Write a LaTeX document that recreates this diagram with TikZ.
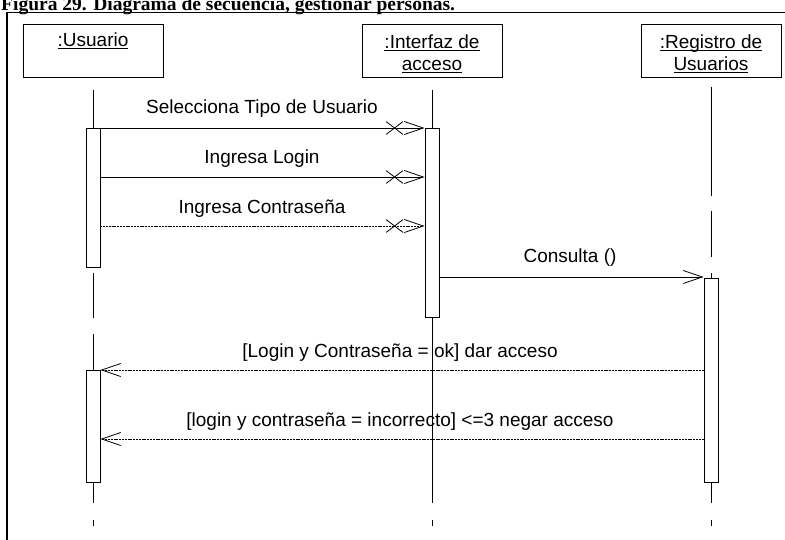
\documentclass[tikz,border=0pt]{standalone}
\usepackage{fontspec}
\setmainfont{Liberation Sans}
\newfontfamily\titlefont{Liberation Serif}
\usetikzlibrary{arrows.meta,shapes.misc}
\newcommand\myul[1]{\setbox0\hbox{#1}\rlap{\rule[-2.8pt]{\wd0}{0.9pt}}\box0}
\begin{document}
\begin{tikzpicture}[x=1pt,y=-1pt,
  every node/.style={font=\fontsize{19}{22}\selectfont},
  objbox/.style={draw, line width=0.8pt, minimum width=140pt, minimum height=53pt, inner sep=0pt, anchor=north},
  actbox/.style={draw, fill=white, line width=0.9pt, minimum width=14pt, inner sep=0pt, anchor=north},
  life/.style={line width=0.8pt},
  msg/.style={line width=0.8pt, -{Straight Barb[length=19pt,width=13pt,line width=0.8pt]}},
  rmsg/.style={msg, dash pattern=on 2pt off 0.8pt},
  xmark/.style={draw, cross out, minimum width=16pt, minimum height=12pt, inner sep=0pt, line width=0.8pt},
  lbl/.style={anchor=base, inner sep=0pt}
]
\useasboundingbox (0,0) rectangle (785,539);
% frame and title
\draw[line width=1.1pt] (7,545) -- (7,12.5) -- (790,12.5);
\node[anchor=base west, inner sep=0pt, font=\titlefont\bfseries\fontsize{19.5}{22}\selectfont] (title) at (1,10) {Figura 29. Diagrama de secuencia, gestionar personas.};
% object boxes
\node[objbox] (bu) at (93,24) {};
\node[objbox] (bi) at (432,24) {};
\node[objbox] (br) at (711,24) {};
\node[lbl] (tu) at (93,46) {\myul{:Usuario}};
\node[lbl] (ti1) at (432,48) {\myul{:Interfaz de}};
\node[lbl] (ti2) at (432,70) {\myul{acceso}};
\node[lbl] (tr1) at (711,48) {\myul{:Registro de}};
\node[lbl] (tr2) at (711,70) {\myul{Usuarios}};
% activations
\node[actbox, minimum height=139pt] (au1) at (93,128) {};
\node[actbox, minimum height=189pt] (ai) at (432,128) {};
\node[actbox, minimum height=204pt] (ar) at (711,278) {};
\node[actbox, minimum height=112pt] (au2) at (93,370) {};
% lifeline ends
\coordinate (eu) at (93,526);
\coordinate (ei) at (432,526);
\coordinate (er) at (711,526);
% lifelines
\draw[life, shorten <=12pt] (bu.south) -- (au1.north);
\draw[life, shorten <=12pt] (bi.south) -- (ai.north);
\draw[life, shorten <=9pt, dash pattern=on 109pt off 15pt on 46pt off 16pt on 6pt off 100pt] (br.south) -- (ar.north);
\draw[life, shorten <=5pt, dash pattern=on 45pt off 16pt on 60pt] (au1.south) -- (au2.north);
\draw[life, dash pattern=on 20pt off 17pt on 7pt off 50pt] (au2.south) -- (eu);
\draw[life, dash pattern=on 185pt off 17pt on 7pt off 50pt] (ai.south) -- (ei);
\draw[life, dash pattern=on 20pt off 17pt on 7pt off 50pt] (ar.south) -- (er);
% message levels
\coordinate (y2) at (0,177);
\coordinate (y3) at (0,226);
\coordinate (y4) at (0,277);
\coordinate (y6) at (0,439);
% messages
\draw[msg] (au1.north east) -- (ai.north west);
\node[xmark] (x1) at ([xshift=-30pt]ai.north west) {};
\node[lbl] (l1) at (262,113) {Selecciona Tipo de Usuario};
\draw[msg] (au1.east |- y2) -- (ai.west |- y2);
\node[xmark] (x2) at ([xshift=-30pt]ai.west |- y2) {};
\node[lbl] (l2) at (262,163) {Ingresa Login};
\draw[rmsg] (au1.east |- y3) -- (ai.west |- y3);
\node[xmark] (x3) at ([xshift=-30pt]ai.west |- y3) {};
\node[lbl] (l3) at (262,213) {Ingresa Contraseña};
\draw[msg] (ai.east |- y4) -- (ar.west |- y4);
\node[lbl] (l4) at (570,262) {Consulta ()};
\draw[rmsg] (ar.west |- au2.north) -- (au2.north east);
\node[lbl] (l5) at (400,357) {[Login y Contraseña = ok] dar acceso};
\draw[rmsg] (ar.west |- y6) -- (au2.east |- y6);
\node[lbl] (l6) at (400,426) {[login y contraseña = incorrecto] <=3 negar acceso};
\end{tikzpicture}
\end{document}
